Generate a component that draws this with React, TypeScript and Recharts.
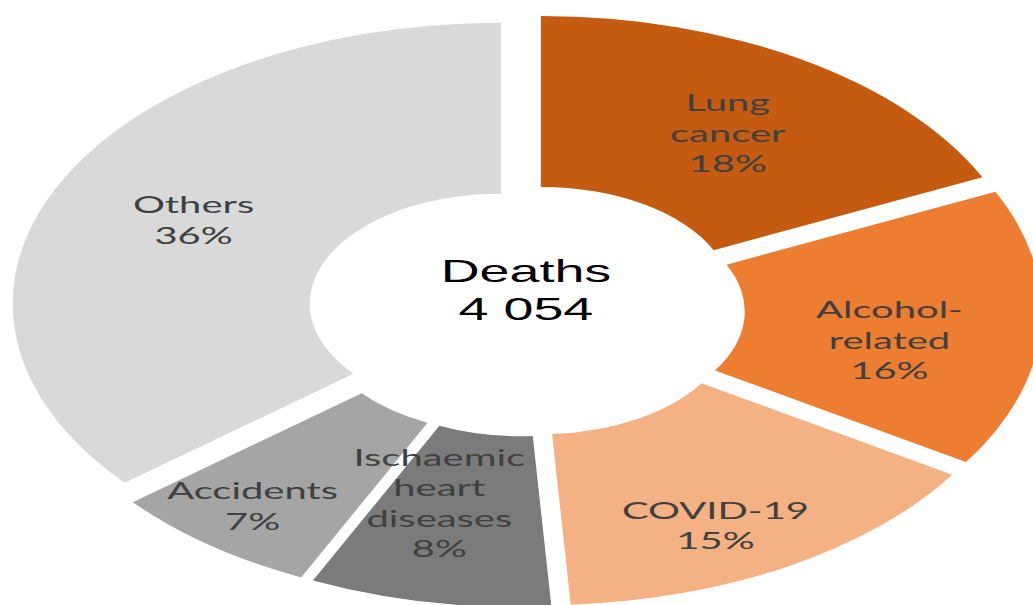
import { Label, Pie, PieChart, Sector } from 'recharts';

const categories = ['Lung cancer', 'Alcohol-related', 'COVID-19', 'Ischaemic heart diseases', 'Accidents', 'Others'];
const shares = [18, 16, 15, 8, 7, 36];
const colors = ['#C55A11', '#ED7D31', '#F4B183', '#7B7B7B', '#A5A5A5', '#D9D9D9'];
const centerTitle = 'Deaths';
const centerValue = '4 054';

// the reference picture is stretched horizontally, so the chart is drawn round and scaled
const STRETCH_X = 1.737;
const CHART_W = 600;
const CHART_H = 605;
const CX = 302.8;
const CY = 310.5;
const OUTER = 281;
const INNER = 110;
const EXPLODE = 16;
const RAD = Math.PI / 180;

// small nudges for label placement (clockwise degrees, radial px)
const labelTweak: Record<string, { da: number; dr: number }> = {
  'Lung cancer': { da: 1, dr: 0 },
  'Alcohol-related': { da: 5, dr: 0 },
  'COVID-19': { da: 4, dr: 30 },
  'Ischaemic heart diseases': { da: 4, dr: -12 },
  Accidents: { da: 1, dr: 40 },
  Others: { da: 0, dr: 0 },
};

const data = categories.map((name, i) => ({ name, value: shares[i], fill: colors[i] }));

function wrap(name: string, max = 9) {
  const lines: string[] = [];
  name.split(' ').forEach((word) => {
    const parts = word.length > max && word.includes('-') ? [word.slice(0, word.indexOf('-') + 1), word.slice(word.indexOf('-') + 1)] : [word];
    parts.forEach((p) => lines.push(p));
  });
  return lines;
}

function offset(midAngle: number, d: number) {
  return { dx: d * Math.cos(-midAngle * RAD), dy: d * Math.sin(-midAngle * RAD) };
}

function ExplodedSlice(props: any) {
  const { dx, dy } = offset(props.midAngle, EXPLODE);
  return <Sector {...props} cx={props.cx + dx} cy={props.cy + dy} stroke="none" />;
}

function SliceLabel(props: any) {
  const { cx, cy, midAngle, innerRadius, outerRadius, name, value, index } = props;
  const tw = labelTweak[name] || { da: 0, dr: 0 };
  const ang = midAngle - tw.da;
  const r = (innerRadius + outerRadius) / 2 + tw.dr;
  const { dx, dy } = offset(midAngle, EXPLODE);
  const x = cx + dx + r * Math.cos(-ang * RAD);
  const y = cy + dy + r * Math.sin(-ang * RAD);
  const lines = [...wrap(name), `${value}%`];
  const lh = 30.5;
  return (
    <text key={index} x={x} y={y} textAnchor="middle" fill="#404040" fontFamily="Lato, 'Open Sans', sans-serif" fontSize={23}>
      {lines.map((l, i) => (
        <tspan key={i} x={x} dy={i === 0 ? -((lines.length - 1) / 2) * lh + 8 : lh}>
          {l}
        </tspan>
      ))}
    </text>
  );
}

function CenterLabel(props: any) {
  const vb = props.viewBox || {};
  const cx = vb.cx ?? CX;
  const cy = vb.cy ?? CY;
  return (
    <text x={cx} y={cy} textAnchor="middle" fill="#000" fontFamily="'Liberation Sans', Arial, sans-serif" fontSize={31}>
      <tspan x={cx} dy={-28.5}>{centerTitle}</tspan>
      <tspan x={cx} dy={38}>{centerValue}</tspan>
    </text>
  );
}

export default function App() {
  return (
    <div style={{ position: 'fixed', left: 0, top: 0, width: 1033, height: 605, overflow: 'hidden', background: '#fff' }}>
      <div style={{ width: CHART_W, height: CHART_H, transform: `scale(${STRETCH_X}, 1)`, transformOrigin: '0 0' }}>
        <PieChart width={CHART_W} height={CHART_H} margin={{ top: 0, right: 0, bottom: 0, left: 0 }}>
          <Pie
            data={data}
            dataKey="value"
            nameKey="name"
            cx={CX}
            cy={CY}
            innerRadius={INNER}
            outerRadius={OUTER}
            startAngle={90}
            endAngle={-270}
            stroke="none"
            shape={ExplodedSlice}
            label={SliceLabel}
            labelLine={false}
            isAnimationActive={false}
          >
            <Label position="center" content={CenterLabel} />
          </Pie>
        </PieChart>
      </div>
    </div>
  );
}
